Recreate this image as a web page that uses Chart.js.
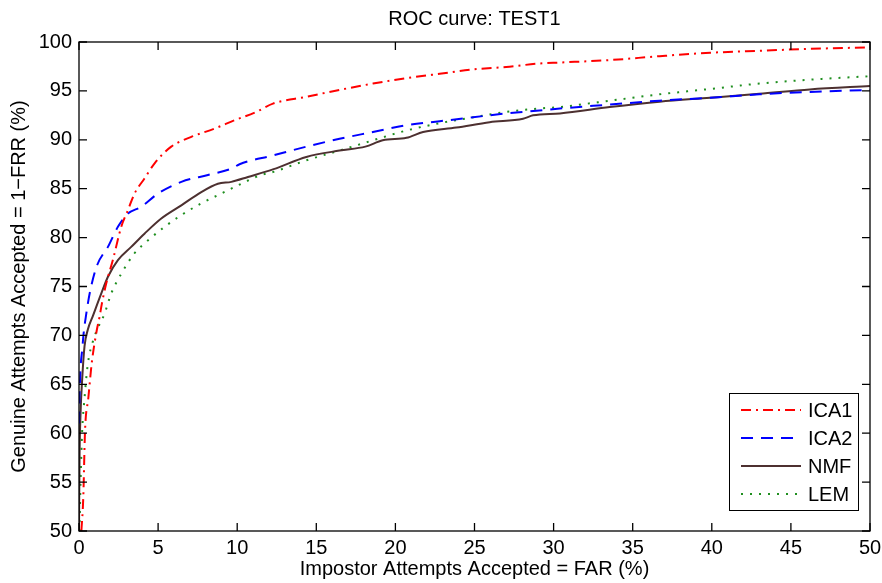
<!DOCTYPE html>
<html><head><meta charset="utf-8">
<script src="https://cdn.jsdelivr.net/npm/chart.js@4/dist/chart.umd.min.js"></script>
<style>html,body{margin:0;padding:0;background:#fff}</style>
</head><body>
<canvas id="c" width="882" height="583"></canvas>
<script>
// ---- data ----
const ica1X=[0.15,0.27,0.38,0.59,0.8,1.12,1.3,1.44,1.72,2.14,2.67,3.09,3.51,4.14,4.78,5.83,7.1,8.57,9.84,11.2,12.26,14.37,16.47,18.58,20.7,22.8,24.9,27.0,29.1,30.4,33.55,36.7,39.9,43.0,46.2,50];
const ica1Y=[50,53.4,60.2,63.6,67.1,70.5,71.9,73.2,75.3,77.7,81.1,82.8,84.5,86.05,87.6,89.3,90.3,91.15,92.0,92.85,93.7,94.4,95.1,95.75,96.3,96.75,97.2,97.45,97.8,97.9,98.15,98.55,98.9,99.1,99.3,99.45];
const ica2X=[0,0.03,0.1,0.2,0.3,0.44,0.7,1.15,1.83,2.46,3.09,3.93,4.99,6.47,8.15,9.63,10.15,12.26,14.37,16.47,18.58,20.7,22.8,24.9,27.0,29.1,30.4,33.55,36.7,39.9,43.0,46.2,50];
const ica2Y=[61,63.6,66.7,68.5,70.3,72.0,74.5,77.2,79.05,81.1,82.45,83.15,84.5,85.7,86.4,87.05,87.5,88.4,89.3,90.1,90.8,91.5,91.9,92.3,92.7,93.0,93.2,93.6,94.0,94.3,94.65,94.9,95.1];
const nmfX=[0,0.03,0.1,0.2,0.35,0.56,0.88,1.41,1.83,2.46,3.3,4.14,5.2,6.47,7.73,8.78,9.63,10.68,12.3,14.37,16.47,18.1,19.2,20.7,21.75,23.85,25.96,28.07,28.7,30.4,33.55,36.7,39.9,43.0,46.2,50];
const nmfY=[50,57,62.1,65.5,68.9,70.6,72.0,74.3,76.0,77.7,79.05,80.4,81.95,83.3,84.65,85.5,85.7,86.2,87.0,88.25,88.9,89.3,89.95,90.2,90.8,91.25,91.8,92.15,92.5,92.7,93.35,93.9,94.3,94.7,95.15,95.5];
const lemX=[0.03,0.1,0.2,0.35,0.56,0.88,1.2,1.61,2.04,2.67,3.51,4.35,5.41,6.47,7.73,8.99,10.25,11.5,12.26,14.37,16.47,18.58,20.7,22.8,24.9,27.0,29.1,30.4,33.55,36.7,39.9,43.0,46.2,50];
const lemY=[50,55.1,60.2,63.6,67.1,69.4,70.8,72.2,74.3,76.3,78.4,79.7,81.1,82.3,83.5,84.5,85.5,86.4,86.7,87.9,88.9,89.95,90.95,91.7,92.3,92.85,93.2,93.35,94.0,94.65,95.2,95.75,96.15,96.5];
const seriesLabels=['ICA1','ICA2','NMF','LEM'];
const xTicks=[0,5,10,15,20,25,30,35,40,45,50];
const yTicks=[50,55,60,65,70,75,80,85,90,95,100];
const titleText='ROC curve: TEST1';
const xTitle='Impostor Attempts Accepted = FAR (%)';
const yTitle='Genuine Attempts Accepted = 1\u2212FRR (%)';

const FONT="'Liberation Sans', Arial, Helvetica, sans-serif";
const FS=20;
const toPts=(xs,ys)=>xs.map((x,i)=>({x:x,y:ys[i]}));

const styles=[
  {borderColor:'#ff0000',borderDash:[10,5,2,5],borderWidth:2},
  {borderColor:'#0000ff',borderDash:[12,8],borderWidth:2},
  {borderColor:'#4d3030',borderDash:[],borderWidth:2},
  {borderColor:'#1f8f1f',borderDash:[2,7],borderWidth:2}
];
const dataArrays=[[ica1X,ica1Y],[ica2X,ica2Y],[nmfX,nmfY],[lemX,lemY]];

const frame={id:'frame',afterDraw(chart){
  const {ctx,chartArea:a,scales:{x,y}}=chart;
  ctx.save();
  // title centred over the plot area
  ctx.fillStyle='#000';ctx.font=FS+'px '+FONT;ctx.textAlign='center';ctx.textBaseline='middle';
  ctx.fillText(titleText,(a.left+a.right)/2,19);
  ctx.strokeStyle='#000';ctx.lineWidth=1.3;
  ctx.strokeRect(a.left,a.top,a.right-a.left,a.bottom-a.top);
  const L=8;
  ctx.beginPath();
  x.ticks.forEach(t=>{const p=x.getPixelForValue(t.value);
    ctx.moveTo(p,a.bottom);ctx.lineTo(p,a.bottom-L);
    ctx.moveTo(p,a.top);ctx.lineTo(p,a.top+L);});
  y.ticks.forEach(t=>{const p=y.getPixelForValue(t.value);
    ctx.moveTo(a.left,p);ctx.lineTo(a.left+L,p);
    ctx.moveTo(a.right,p);ctx.lineTo(a.right-L,p);});
  ctx.stroke();
  // legend box
  const w=129,h=117;
  const lx=a.right-12-w, ly=a.bottom-21-h;
  ctx.fillStyle='#fff';ctx.fillRect(lx,ly,w,h);
  ctx.lineWidth=1;ctx.strokeRect(lx+0.5,ly+0.5,w,h);
  ctx.font=FS+'px '+FONT;ctx.textBaseline='middle';ctx.textAlign='left';
  chart.data.datasets.forEach((ds,i)=>{
    const ry=ly+17+i*28;
    ctx.save();
    ctx.strokeStyle=ds.borderColor;ctx.lineWidth=ds.borderWidth;
    ctx.setLineDash(ds.borderDash||[]);
    ctx.beginPath();ctx.moveTo(lx+12,ry);ctx.lineTo(lx+72,ry);ctx.stroke();
    ctx.restore();
    ctx.fillStyle='#000';ctx.fillText(ds.label,lx+79,ry+1);
  });
  ctx.restore();
}};

new Chart(document.getElementById('c'),{
  type:'line',
  data:{datasets:seriesLabels.map((lab,i)=>Object.assign({
    label:lab,data:toPts(dataArrays[i][0],dataArrays[i][1]),
    pointRadius:0,fill:false,cubicInterpolationMode:'monotone'},styles[i]))},
  options:{
    responsive:false,animation:false,
    layout:{padding:{left:0,right:12,top:42,bottom:0}},
    plugins:{legend:{display:false},tooltip:{enabled:false},title:{display:false}},
    scales:{
      x:{type:'linear',min:0,max:50,
        afterBuildTicks:s=>{s.ticks=xTicks.map(v=>({value:v}));},
        ticks:{autoSkip:false,maxRotation:0,color:'#000',padding:5,font:{family:FONT,size:FS}},
        grid:{display:false,drawTicks:false},border:{display:false},
        title:{display:true,text:xTitle,color:'#000',font:{family:FONT,size:FS},padding:{top:0,bottom:2}},
        afterFit:s=>{s.height=52;s.paddingLeft=0;s.paddingRight=0;}},
      y:{type:'linear',min:50,max:100,
        afterBuildTicks:s=>{s.ticks=yTicks.map(v=>({value:v}));},
        ticks:{autoSkip:false,color:'#000',padding:7,font:{family:FONT,size:FS}},
        grid:{display:false,drawTicks:false},border:{display:false},
        title:{display:true,text:yTitle,color:'#000',font:{family:FONT,size:FS},padding:{top:7,bottom:0}},
        afterFit:s=>{s.width=79;s.paddingTop=0;s.paddingBottom=0;}}
    }
  },
  plugins:[frame]
});
</script>
</body></html>
